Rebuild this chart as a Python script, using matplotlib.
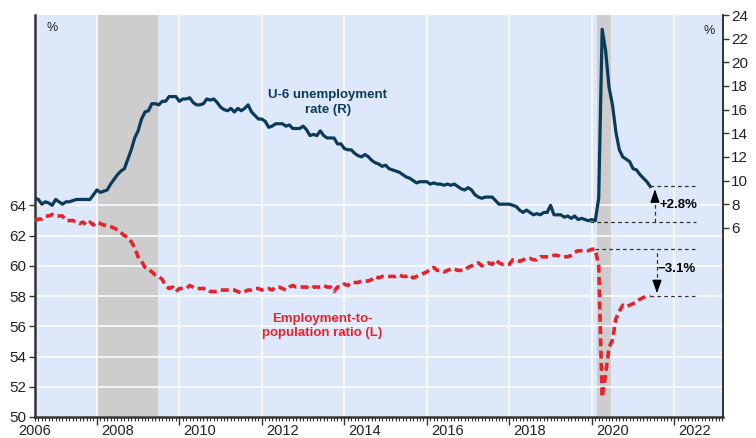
import matplotlib.pyplot as plt
import numpy as np

plt.rcParams['font.family'] = ['Liberation Sans', 'DejaVu Sans']

# monthly data, Jul 2006 - Jun 2021
u6_rate = [
    8.5, 8.4, 8.0, 8.2, 8.1, 7.9,                                      # 2006 H2
    8.4, 8.2, 8.0, 8.2, 8.2, 8.3, 8.4, 8.4, 8.4, 8.4, 8.4, 8.8,        # 2007
    9.2, 9.0, 9.1, 9.2, 9.7, 10.1, 10.5, 10.8, 11.0, 11.8, 12.6, 13.6,  # 2008
    14.2, 15.2, 15.8, 15.9, 16.5, 16.5, 16.4, 16.7, 16.7, 17.1, 17.1, 17.1,
    16.7, 16.9, 16.9, 17.0, 16.6, 16.4, 16.4, 16.5, 16.9, 16.8, 16.9, 16.6,
    16.2, 16.0, 15.9, 16.1, 15.8, 16.1, 15.9, 16.1, 16.4, 15.8, 15.5, 15.2,
    15.2, 15.0, 14.5, 14.6, 14.8, 14.8, 14.8, 14.6, 14.7, 14.4, 14.4, 14.4,
    14.6, 14.3, 13.8, 13.9, 13.8, 14.2, 13.8, 13.6, 13.6, 13.6, 13.1, 13.1,
    12.7, 12.6, 12.6, 12.3, 12.1, 12.0, 12.2, 12.0, 11.7, 11.5, 11.4, 11.2,
    11.3, 11.0, 10.9, 10.8, 10.7, 10.5, 10.3, 10.2, 10.0, 9.8, 9.9, 9.9,
    9.9, 9.7, 9.8, 9.7, 9.7, 9.6, 9.7, 9.6, 9.7, 9.5, 9.3, 9.2,
    9.4, 9.2, 8.8, 8.6, 8.5, 8.6, 8.6, 8.6, 8.3, 8.0, 8.0, 8.0,
    8.0, 7.9, 7.8, 7.5, 7.3, 7.5, 7.3, 7.1, 7.2, 7.1, 7.3, 7.3,
    7.9, 7.1, 7.1, 7.1, 6.9, 7.0, 6.8, 7.0, 6.7, 6.8, 6.7, 6.6,
    6.7, 6.6, 8.5, 22.8, 21.0, 17.9, 16.4, 14.1, 12.6, 12.0, 11.8, 11.6,
    11.0, 10.9, 10.5, 10.2, 9.9, 9.5,                                  # 2021 H1
]
emp_pop = [
    63.0, 63.1, 63.1, 63.3, 63.3, 63.4,
    63.3, 63.3, 63.3, 63.0, 63.0, 63.0, 62.9, 62.8, 62.9, 62.7, 62.9, 62.7,
    62.9, 62.8, 62.7, 62.7, 62.6, 62.5, 62.4, 62.2, 62.0, 61.9, 61.6, 61.2,
    60.6, 60.3, 59.9, 59.8, 59.6, 59.4, 59.3, 59.1, 58.7, 58.5, 58.6, 58.3,
    58.5, 58.5, 58.5, 58.7, 58.6, 58.5, 58.5, 58.5, 58.5, 58.3, 58.3, 58.3,
    58.4, 58.4, 58.4, 58.4, 58.4, 58.3, 58.2, 58.3, 58.4, 58.4, 58.5, 58.5,
    58.4, 58.5, 58.5, 58.4, 58.6, 58.6, 58.5, 58.4, 58.6, 58.7, 58.6, 58.6,
    58.6, 58.6, 58.5, 58.6, 58.6, 58.6, 58.7, 58.6, 58.6, 58.3, 58.6, 58.6,
    58.8, 58.7, 58.9, 58.9, 58.9, 59.0, 59.0, 59.0, 59.1, 59.3, 59.2, 59.3,
    59.3, 59.3, 59.3, 59.3, 59.4, 59.3, 59.3, 59.4, 59.2, 59.3, 59.4, 59.5,
    59.6, 59.8, 59.9, 59.7, 59.7, 59.6, 59.7, 59.8, 59.8, 59.7, 59.7, 59.7,
    59.9, 60.0, 60.1, 60.2, 60.0, 60.1, 60.2, 60.1, 60.4, 60.2, 60.1, 60.1,
    60.1, 60.4, 60.4, 60.3, 60.4, 60.5, 60.5, 60.4, 60.4, 60.6, 60.6, 60.6,
    60.6, 60.7, 60.7, 60.6, 60.6, 60.6, 60.7, 60.9, 61.0, 61.0, 61.0, 61.0,
    61.1, 61.1, 60.0, 51.3, 52.8, 54.6, 55.1, 56.5, 57.0, 57.4, 57.3, 57.4,
    57.5, 57.6, 57.8, 57.9, 58.0, 58.0,
]
recessions = [(2008.0, 2009.48), (2020.13, 2020.47)]
year_labels = [2006, 2008, 2010, 2012, 2014, 2016, 2018, 2020, 2022]

t = 2006.5 + np.arange(len(u6_rate)) / 12

bg = '#dde9fb'
navy = '#0b3a5b'
red = '#e8222b'
dark = '#333333'

fig = plt.figure(figsize=(7.56, 4.38), dpi=100)
ax = fig.add_axes([35 / 756, 21 / 438, 688 / 756, 402 / 438])
ax2 = ax.twinx()
ax.set_facecolor(bg)
ax2.patch.set_visible(False)

for a, b in recessions:
    ax.axvspan(a, b, color='#cdcdcd', lw=0, zorder=1)
for y in range(50, 65, 2):
    ax.axhline(y, color='white', lw=1.1, zorder=1.5)
for x in year_labels[1:]:
    ax.axvline(x, color='white', lw=1.1, zorder=1.5)

ax.plot(t, emp_pop, color=red, lw=2.6, ls=(0, (2.2, 1.2)), zorder=3)
ax2.plot(t, u6_rate, color=navy, lw=2.3, zorder=3)

ax.set_ylim(50, 76.6)
ax2.set_ylim(-10, 24)

# ticks
ax.set_yticks(range(50, 65, 2))
ax2.set_yticks(range(6, 25, 2))
ax.set_xticks(year_labels)
ax.set_xticklabels([])
ax.set_xticks(np.arange(2006.5, 2023.2, 1 / 12), minor=True)
ax.tick_params(axis='x', which='major', length=6, width=1, color=dark)
ax.tick_params(axis='x', which='minor', length=3, width=0.8, color=dark)
ax.tick_params(axis='y', length=4, width=1, color=dark, labelsize=11, labelcolor='#222222', pad=2)
ax2.tick_params(axis='y', length=4, width=1, color=dark, labelsize=11, labelcolor='#222222', pad=2)
for yr in year_labels:
    ax.text(yr + 0.5, -0.018, str(yr), transform=ax.get_xaxis_transform(),
            ha='center', va='top', fontsize=10.5, color='#222222')

for a in (ax, ax2):
    a.spines['top'].set_visible(False)
ax.spines['left'].set_color(dark)
ax.spines['left'].set_linewidth(1.8)
ax.spines['bottom'].set_color(dark)
ax.spines['bottom'].set_linewidth(1.8)
ax.spines['right'].set_visible(False)
ax2.spines['left'].set_visible(False)
ax2.spines['bottom'].set_visible(False)
ax2.spines['right'].set_color(dark)
ax2.spines['right'].set_linewidth(1.4)

ax.text(0.017, 0.983, '%', transform=ax.transAxes, fontsize=9, color='#222222', ha='left', va='top')
ax.text(0.988, 0.975, '%', transform=ax.transAxes, fontsize=9, color='#222222', ha='right', va='top')

ax2.text(2013.6, 16.6, 'U-6 unemployment\nrate (R)', color=navy, fontsize=9.5,
         fontweight='bold', ha='center', va='center', linespacing=1.25)
ax.text(2013.47, 56.0, 'Employment-to-\npopulation ratio (L)', color=red, fontsize=9.5,
        fontweight='bold', ha='center', va='center', linespacing=1.25)

# change markers
dash = (0, (3, 2.5))
u6_pre, u6_now = 6.5, 9.5
ep_pre, ep_now = emp_pop[163], emp_pop[-1]
x_arrow = 2021.53
ax2.hlines(u6_now, t[-1], 2022.52, color=dark, lw=0.9, ls=dash, zorder=4)
ax2.hlines(u6_pre, 2019.95, 2022.52, color=dark, lw=0.9, ls=dash, zorder=4)
ax2.vlines(x_arrow, u6_pre, u6_now - 0.8, color=dark, lw=0.9, ls=dash, zorder=4)
ax2.annotate('', xy=(x_arrow, u6_now), xytext=(x_arrow, u6_now - 0.9),
             arrowprops=dict(arrowstyle='-|>,head_length=0.8,head_width=0.28',
                             color='black', lw=0.9), zorder=5)
ax2.text(2021.65, 7.95, '+2.8%', fontsize=9.5, fontweight='bold', ha='left', va='center')

ax.hlines(ep_pre, t[163], 2022.52, color=dark, lw=0.9, ls=dash, zorder=4)
ax.hlines(ep_now, t[-1], 2022.52, color=dark, lw=0.9, ls=dash, zorder=4)
ax.vlines(x_arrow + 0.05, ep_now + 0.8, ep_pre, color=dark, lw=0.9, ls=dash, zorder=4)
ax.annotate('', xy=(x_arrow + 0.05, ep_now), xytext=(x_arrow + 0.05, ep_now + 0.9),
            arrowprops=dict(arrowstyle='-|>,head_length=0.8,head_width=0.28',
                            color='black', lw=0.9), zorder=5)
ax.text(2021.6, 59.8, '\u22123.1%', fontsize=9.5, fontweight='bold', ha='left', va='center')

# set limits last so the twin axis cannot autoscale them away
for a in (ax, ax2):
    a.set_autoscalex_on(False)
    a.set_xlim(2006.5, 2023.18)

fig.savefig('out.png', dpi=100)
